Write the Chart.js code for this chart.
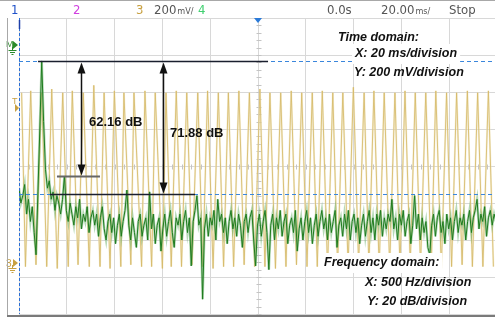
<!DOCTYPE html>
<html>
<head>
<meta charset="utf-8">
<script src="https://cdn.jsdelivr.net/npm/chart.js@4.4.0/dist/chart.umd.min.js"></script>
<style>
  html, body { margin: 0; padding: 0; background: #fff; overflow: hidden; }
  #wrap { position: relative; width: 495px; height: 320px; overflow: hidden; }
  canvas { position: absolute; left: 0; top: 0; }
</style>
</head>
<body>
<div id="wrap"><canvas id="scope" width="500" height="320"></canvas></div>
<script>
// time domain (channel 3): peak / trough positions
const yellowPeakMs = [1.1, 4.9, 9.5, 13.7, 18.3, 22.3, 26.9, 31.3, 35.6, 39.9,
  43.9, 48.1, 52.7, 57.0, 61.5, 65.8, 70.2, 74.8, 78.9, 83.4,
  87.6, 92.0, 96.4, 100.8, 105.0, 109.5, 113.9, 118.3, 122.7, 126.9,
  131.3, 135.5, 139.9, 144.4, 148.5, 152.8, 157.3, 161.5, 165.8, 170.2,
  174.4, 178.9, 183.1, 187.6, 191.9, 196.4];
const yellowPeakV = [0.92, 0.93, 0.92, 0.94, 0.92, 0.93, 0.92, 0.96, 0.92, 0.93,
  0.92, 0.92, 0.93, 0.92, 0.92, 0.93, 0.92, 0.92, 0.93, 0.92,
  0.92, 0.93, 0.92, 0.94, 0.92, 0.92, 0.93, 0.92, 0.92, 0.93,
  0.92, 0.92, 0.95, 0.92, 0.93, 0.92, 0.92, 0.93, 0.92, 0.92,
  0.93, 0.92, 0.92, 0.93, 0.92, 0.93];
const yellowTroughMs = [2.7, 7.1, 11.6, 16.0, 20.6, 24.7, 29.4, 33.9, 38.1, 42.6,
  46.8, 51.3, 55.5, 60.0, 63.7, 68.0, 72.4, 76.9, 81.2, 85.6,
  89.8, 94.2, 98.6, 102.9, 107.3, 111.7, 116.1, 120.5, 124.8, 129.1,
  133.3, 137.7, 142.1, 146.4, 150.7, 155.1, 159.4, 163.7, 168.0, 172.5,
  176.7, 181.0, 185.4, 189.7, 194.1, 198.5];
const yellowTroughV = [-0.02, -0.01, -0.02, -0.03, -0.02, -0.01, -0.02, -0.02, -0.03, -0.02,
  -0.01, -0.02, -0.02, -0.03, -0.02, -0.02, -0.01, -0.02, -0.03, -0.02,
  -0.02, -0.01, -0.02, -0.02, -0.03, -0.02, -0.01, -0.02, -0.02, -0.03,
  -0.02, -0.02, -0.01, -0.02, -0.03, -0.02, -0.02, -0.01, -0.02, -0.02,
  -0.03, -0.02, -0.01, -0.02, -0.02, -0.02];

// frequency domain (FFT), one value per bin
const fftStepHz = 19.8;
const fftDb = [-72, -80, -76, -70, -86, -78, -90, -82, -96, -108,
  -74, -40, -3.2, -36, -62, -72, -68, -78, -74, -84,
  -76, -80, -86, -78, -65.4, -84, -90, -80, -86, -92,
  -82, -88, -78, -94, -86, -90, -82, -96, -88, -84,
  -92, -86, -98, -88, -82, -94, -100, -90, -86, -96,
  -88, -102, -92, -86, -98, -90, -84, -73, -92, -100,
  -88, -96, -104, -90, -86, -98, -92, -88, -100, -74,
  -94, -86, -102, -92, -88, -106, -94, -86, -98, -90,
  -84, -96, -104, -88, -92, -86, -100, -90, -84, -96,
  -88, -114, -90, -84, -76, -92, -88, -132, -94, -86,
  -98, -88, -92, -84, -100, -78, -90, -86, -96, -88,
  -102, -90, -84, -94, -88, -98, -86, -92, -104, -90,
  -86, -96, -88, -84, -100, -114, -92, -86, -98, -90,
  -84, -96, -116, -92, -86, -100, -88, -94, -84, -98,
  -90, -86, -102, -92, -88, -96, -84, -106, -94, -88,
  -100, -90, -84, -96, -88, -102, -92, -86, -98, -90,
  -84, -94, -88, -100, -86, -96, -90, -84, -104, -92,
  -88, -98, -86, -94, -84, -100, -90, -86, -96, -88,
  -102, -92, -86, -98, -90, -84, -96, -88, -100, -86,
  -92, -84, -98, -88, -94, -86, -90, -78, -94, -88,
  -100, -86, -92, -84, -98, -90, -86, -102, -92, -76,
  -94, -86, -100, -88, -96, -90, -104, -108, -92, -86,
  -98, -88, -84, -96, -90, -102, -86, -94, -88, -100,
  -90, -84, -96, -88, -92, -86, -100, -90, -84, -96,
  -88, -84, -78, -94, -86, -90, -82, -98, -88, -84,
  -92, -86, -90];

// cursor measurements (dB below the main peak)
const cursorDeltaDb = [62.16, 71.88];
const cursorLabels = ["62.16 dB", "71.88 dB"];
const arrowHz = [649, 1506];

// build point lists
const yellowPts = [];
yellowPeakMs.forEach((t, i) => {
  yellowPts.push({ x: t, y: yellowPeakV[i] });
  yellowPts.push({ x: yellowTroughMs[i], y: yellowTroughV[i] });
});
const fftPts = fftDb.map((v, i) => ({ x: i * fftStepHz, y: v }));

function arrowHead(ctx, x, y, dir) {
  ctx.beginPath();
  ctx.moveTo(x, y);
  ctx.lineTo(x - 4, y + dir * 11);
  ctx.lineTo(x + 4, y + dir * 11);
  ctx.closePath();
  ctx.fill();
}

function groundSym(ctx, x, y, color) {
  ctx.strokeStyle = color;
  ctx.lineWidth = 1;
  ctx.beginPath();
  ctx.moveTo(x, y); ctx.lineTo(x, y + 3);
  ctx.moveTo(x - 4, y + 3.5); ctx.lineTo(x + 4, y + 3.5);
  ctx.moveTo(x - 2.5, y + 5.5); ctx.lineTo(x + 2.5, y + 5.5);
  ctx.moveTo(x - 1, y + 7.5); ctx.lineTo(x + 1, y + 7.5);
  ctx.stroke();
}

const overlay = {
  id: "overlay",
  beforeDatasetsDraw(chart) {
    // small ticks on the centre lines
    const { ctx } = chart;
    const xf = chart.scales.xf, yf = chart.scales.yf;
    const cx = Math.round(xf.getPixelForValue(2500)) + 0.5;
    const cy = Math.round(yf.getPixelForValue(-60)) + 0.5;
    ctx.save();
    ctx.strokeStyle = "#c4c4c4";
    ctx.lineWidth = 1;
    ctx.beginPath();
    for (let v = -140; v <= 20; v += 4) {
      const y = Math.round(yf.getPixelForValue(v)) + 0.5;
      ctx.moveTo(cx - 2, y); ctx.lineTo(cx + 3, y);
    }
    for (let f = 0; f <= 5000; f += 100) {
      const x = Math.round(xf.getPixelForValue(f)) + 0.5;
      ctx.moveTo(x, cy - 2); ctx.lineTo(x, cy + 3);
    }
    ctx.stroke();
    ctx.restore();
  },
  afterDatasetsDraw(chart) {
    const { ctx, chartArea: a } = chart;
    const xf = chart.scales.xf, yf = chart.scales.yf;
    const px = f => xf.getPixelForValue(f);
    const peak = Math.max(...fftDb);
    const yTop = Math.round(yf.getPixelForValue(peak)) + 0.5;
    const yMid = Math.round(yf.getPixelForValue(peak - cursorDeltaDb[0])) + 0.5;
    const yLow = Math.round(yf.getPixelForValue(peak - cursorDeltaDb[1])) + 0.5;
    ctx.save();

    // blue dashed cursors
    ctx.strokeStyle = "#3a86dc";
    ctx.lineWidth = 1;
    ctx.setLineDash([4, 3]);
    ctx.beginPath();
    ctx.moveTo(a.left, yTop); ctx.lineTo(495, yTop);
    ctx.moveTo(a.left, yLow); ctx.lineTo(495, yLow);
    ctx.stroke();
    ctx.setLineDash([]);

    // measurement lines
    ctx.strokeStyle = "#1a1f2e";
    ctx.lineWidth = 1.5;
    ctx.beginPath();
    ctx.moveTo(px(199), yTop); ctx.lineTo(px(2605), yTop);
    ctx.moveTo(px(324), yLow); ctx.lineTo(px(1841), yLow);
    ctx.stroke();
    ctx.strokeStyle = "#666";
    ctx.lineWidth = 2;
    ctx.beginPath();
    ctx.moveTo(px(397), yMid); ctx.lineTo(px(847), yMid);
    ctx.stroke();

    // arrows
    ctx.strokeStyle = "#111";
    ctx.fillStyle = "#111";
    ctx.lineWidth = 1.5;
    const ends = [yMid, yLow];
    arrowHz.forEach((f, i) => {
      const x = Math.round(px(f)) + 0.5;
      ctx.beginPath();
      ctx.moveTo(x, yTop + 8); ctx.lineTo(x, ends[i] - 8);
      ctx.stroke();
      arrowHead(ctx, x, yTop + 1, 1);
      arrowHead(ctx, x, ends[i] - 1, -1);
    });
    ctx.font = "bold 13px 'Liberation Sans', Arial, sans-serif";
    ctx.textBaseline = "middle";
    ctx.textAlign = "left";
    ctx.fillText(cursorLabels[0], 89, 122);
    ctx.fillText(cursorLabels[1], 170, 133);

    // domain notes
    ctx.font = "italic bold 12.5px 'Liberation Sans', Arial, sans-serif";
    const notes = [
      ["Time domain:", 338, 38],
      ["X: 20 ms/division", 355, 54],
      ["Y: 200 mV/division", 354, 73],
      ["Frequency domain:", 324, 263],
      ["X: 500 Hz/division", 365, 283],
      ["Y: 20 dB/division", 367, 302]
    ];
    notes.forEach(([t, x, y], i) => {
      if (i === 1 || i === 3) {
        ctx.fillStyle = "#fff";
        const w = ctx.measureText(t).width;
        ctx.fillRect(x - 3, y - 10, w + 6, 20);
      }
      ctx.fillStyle = "#111";
      ctx.fillText(t, x, y);
    });

    // left vertical marker line
    ctx.strokeStyle = "#2a6fd6";
    ctx.lineWidth = 1;
    ctx.setLineDash([3, 2]);
    ctx.beginPath();
    ctx.moveTo(a.left + 0.5, a.top); ctx.lineTo(a.left + 0.5, a.bottom);
    ctx.stroke();
    ctx.setLineDash([]);
    ctx.strokeStyle = "#1e3fa8";
    ctx.lineWidth = 1.5;
    ctx.beginPath();
    ctx.moveTo(a.left + 0.5, 20); ctx.lineTo(a.left + 0.5, 29);
    ctx.stroke();

    // trigger position marker
    const tx = Math.round(px(2500));
    ctx.fillStyle = "#2a7ad8";
    ctx.beginPath();
    ctx.moveTo(tx - 4, 18); ctx.lineTo(tx + 4, 18); ctx.lineTo(tx, 23);
    ctx.closePath(); ctx.fill();

    // left channel markers
    ctx.font = "9px 'Liberation Sans', Arial, sans-serif";
    ctx.textBaseline = "alphabetic";
    const green = "#2a8a2a", gold = "#c8a040";
    ctx.fillStyle = green;
    ctx.fillText("M", 6, 47);
    ctx.beginPath();
    ctx.moveTo(13, 41); ctx.lineTo(13, 49); ctx.lineTo(18, 45); ctx.closePath(); ctx.fill();
    groundSym(ctx, 12.5, 47, green);

    ctx.fillStyle = gold;
    ctx.fillText("T", 12, 104);
    ctx.beginPath();
    ctx.moveTo(15, 104); ctx.lineTo(15, 112); ctx.lineTo(19, 108); ctx.closePath(); ctx.fill();

    ctx.font = "10px 'Liberation Sans', Arial, sans-serif";
    ctx.fillText("3", 6, 267);
    ctx.beginPath();
    ctx.moveTo(13, 259); ctx.lineTo(13, 267); ctx.lineTo(18, 263); ctx.closePath(); ctx.fill();
    groundSym(ctx, 12.5, 265, gold);

    // frame
    ctx.strokeStyle = "#a8a8a8";
    ctx.lineWidth = 1;
    ctx.beginPath();
    ctx.moveTo(7.5, a.top); ctx.lineTo(7.5, 316);
    ctx.moveTo(0, 0.5); ctx.lineTo(495, 0.5);
    ctx.stroke();
    ctx.strokeStyle = "#7a7a7a";
    ctx.lineWidth = 2;
    ctx.beginPath();
    ctx.moveTo(7, 316); ctx.lineTo(495, 316);
    ctx.stroke();

    // status bar
    const narrow = "'Liberation Sans Narrow', 'DejaVu Sans Condensed', sans-serif";
    const bar = [
      ["1", 11, "#1e50c8"], ["2", 73, "#d040e0"], ["3", 136, "#c8a040"],
      ["4", 198, "#40d070"], ["0.0s", 327, "#555"], ["Stop", 449, "#555"]
    ];
    ctx.font = "13px " + narrow;
    bar.forEach(([t, x, c]) => { ctx.fillStyle = c; ctx.fillText(t, x, 14); });
    ctx.fillStyle = "#555";
    ctx.fillText("200", 154, 14);
    ctx.fillText("20.00", 381, 14);
    const w1 = ctx.measureText("200").width, w2 = ctx.measureText("20.00").width;
    ctx.font = "9px " + narrow;
    ctx.fillText("mV/", 154 + w1 + 1, 14);
    ctx.fillText("ms/", 381 + w2 + 1, 14);
    ctx.restore();
  }
};

const gridStyle = { color: "#d8d8d8", drawTicks: false };
new Chart(document.getElementById("scope"), {
  type: "line",
  data: {
    datasets: [
      { data: fftPts, xAxisID: "xf", yAxisID: "yf", borderColor: "#1e7b1e", borderWidth: 1, pointRadius: 0, order: 1 },
      { data: fftPts, xAxisID: "xf", yAxisID: "yf", borderColor: "rgba(110,180,110,0.5)", borderWidth: 2.5, pointRadius: 0, order: 2 },
      { data: yellowPts, xAxisID: "xt", yAxisID: "yt", borderColor: "rgba(214,186,104,0.85)", borderWidth: 1, pointRadius: 0, order: 3 },
      { data: yellowPts, xAxisID: "xt", yAxisID: "yt", borderColor: "rgba(240,230,192,0.6)", borderWidth: 2, pointRadius: 0, order: 4 }
    ]
  },
  options: {
    responsive: false,
    animation: false,
    layout: { padding: { left: 19, right: 3, top: 18, bottom: 6 } },
    plugins: { legend: { display: false }, tooltip: { enabled: false } },
    scales: {
      xf: {
        type: "linear", position: "bottom", min: 0, max: 5000,
        ticks: { display: false, stepSize: 500 }, grid: gridStyle, border: { display: false },
        afterFit: s => { s.height = 0; }
      },
      yf: {
        type: "linear", position: "left", min: -140, max: 20,
        ticks: { display: false, stepSize: 20 }, grid: gridStyle, border: { display: false },
        afterFit: s => { s.width = 0; }
      },
      xt: { type: "linear", min: 0, max: 200, display: false },
      yt: { type: "linear", min: -0.276, max: 1.324, display: false }
    }
  },
  plugins: [overlay]
});
</script>
</body>
</html>
